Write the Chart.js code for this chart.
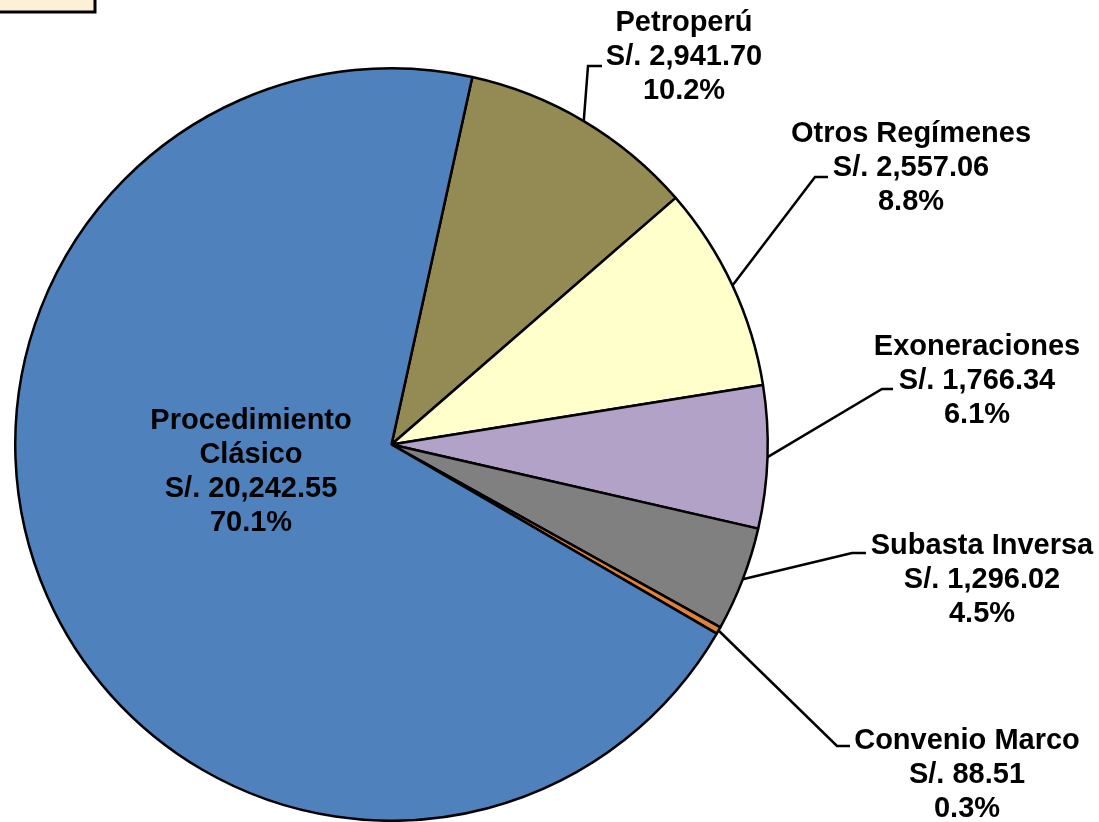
<!DOCTYPE html>
<html>
<head>
<meta charset="utf-8">
<script src="https://cdn.jsdelivr.net/npm/chart.js@4"></script>
<style>
  body { margin: 0; background: #fff; }
  canvas { display: block; }
</style>
</head>
<body>
<canvas id="pieChart" width="1099" height="822"></canvas>
<script>
// data, in clockwise order starting at Petroperú
var categories = ["Petroperú", "Otros Regímenes", "Exoneraciones", "Subasta Inversa", "Convenio Marco", "Procedimiento Clásico"];
var values = [2941.70, 2557.06, 1766.34, 1296.02, 88.51, 20242.55];
var percents = ["10.2%", "8.8%", "6.1%", "4.5%", "0.3%", "70.1%"];
var colors = ["#948A54", "#FFFFCC", "#B3A2C7", "#808080", "#E0823A", "#4F81BD"];

// label layout: text lines, centre x, first line y, and leader kink/end points
var labelLayout = [
  { lines: ["Petroperú"], x: 684, y: 23, kink: [588, 66], end: [602, 66] },
  { lines: ["Otros Regímenes"], x: 911, y: 134, kink: [815, 177], end: [828, 177] },
  { lines: ["Exoneraciones"], x: 977, y: 347, kink: [882, 389], end: [893, 389] },
  { lines: ["Subasta Inversa"], x: 982, y: 546, kink: [852, 553], end: [866, 553] },
  { lines: ["Convenio Marco"], x: 967, y: 741, kink: [837, 746], end: [850, 746] },
  { lines: ["Procedimiento", "Clásico"], x: 251, y: 421, kink: null, end: null }
];

function money(v) {
  return "S/. " + v.toLocaleString("en-US", { minimumFractionDigits: 2, maximumFractionDigits: 2 });
}

var labelPlugin = {
  id: "pieLabels",
  beforeDraw: function (chart) {
    var c = chart.ctx;
    c.save();
    c.fillStyle = "#FDF0D6";
    c.strokeStyle = "#000";
    c.lineWidth = 3;
    c.fillRect(-2, -2, 97, 14);
    c.strokeRect(-2, -2, 97, 14);
    c.restore();
  },
  afterDraw: function (chart) {
    var c = chart.ctx;
    var meta = chart.getDatasetMeta(0);
    c.save();
    c.font = "bold 29px 'Liberation Sans', Arial, sans-serif";
    c.textAlign = "center";
    c.textBaseline = "middle";
    c.fillStyle = "#000";
    c.strokeStyle = "#000";
    c.lineWidth = 2.5;
    meta.data.forEach(function (arc, i) {
      var lay = labelLayout[i];
      if (lay.kink) {
        var p = arc.getProps(["x", "y", "startAngle", "endAngle", "outerRadius"], true);
        var mid = (p.startAngle + p.endAngle) / 2;
        var sx = p.x + Math.cos(mid) * p.outerRadius;
        var sy = p.y + Math.sin(mid) * p.outerRadius;
        c.beginPath();
        c.moveTo(sx, sy);
        c.lineTo(lay.kink[0], lay.kink[1]);
        c.lineTo(lay.end[0], lay.end[1]);
        c.stroke();
      }
      var lines = lay.lines.concat([money(values[i]), percents[i]]);
      lines.forEach(function (t, k) {
        c.fillText(t, lay.x, lay.y + k * 34);
      });
    });
    c.restore();
  }
};

var ctx = document.getElementById("pieChart").getContext("2d");
var pieChart = new Chart(ctx, {
  type: "pie",
  data: {
    labels: categories,
    datasets: [
      {
        data: values,
        backgroundColor: colors,
        borderColor: "#000",
        borderWidth: 2.5,
      },
    ],
  },
  options: {
    responsive: false,
    animation: false,
    rotation: 12.4,
    layout: { padding: { left: 14, top: 67, right: 330, bottom: 0 } },
    plugins: {
      legend: { display: false },
      tooltip: { enabled: false },
    },
  },
  plugins: [labelPlugin],
});
</script>
</body>
</html>
